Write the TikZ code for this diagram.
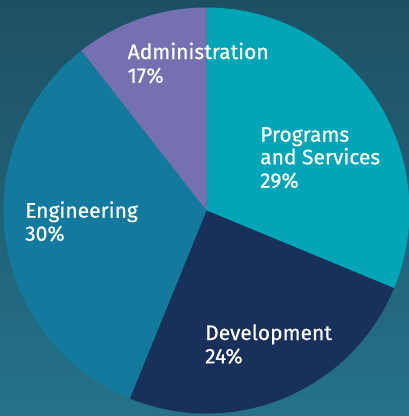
\documentclass[tikz,border=0pt]{standalone}
\usepackage{fontspec}
\newfontfamily\lblfont{Fira Sans}[UprightFeatures={FakeBold=0.5}]
\definecolor{bgtop}{HTML}{1E5064}
\definecolor{bgbot}{HTML}{24728A}
\definecolor{admin}{HTML}{7571B1}
\definecolor{prog}{HTML}{00A5B6}
\definecolor{devel}{HTML}{18305A}
\definecolor{engin}{HTML}{137A9E}
\tikzset{lbl/.style={anchor=base west, inner sep=0pt, text=white, font=\lblfont\fontsize{21}{24}\selectfont}}
\begin{document}
\begin{tikzpicture}[x=1pt,y=-1pt]
\shade[top color=bgtop, bottom color=bgbot] (0,0) rectangle (409,416);
\useasboundingbox (0,0) rectangle (409,416);
\coordinate (c) at (206.5,210.5);
\def\R{203}
% y axis flipped: angle a in standard maps to -a here
\fill[prog] (c) -- ++(-90:\R) arc[start angle=-90, end angle=22.5, radius=\R] -- cycle;
\fill[devel] (c) -- ++(22.5:\R) arc[start angle=22.5, end angle=112.2, radius=\R] -- cycle;
\fill[engin] (c) -- ++(112.2:\R) arc[start angle=112.2, end angle=232, radius=\R] -- cycle;
\fill[admin] (c) -- ++(232:\R) arc[start angle=232, end angle=270, radius=\R] -- cycle;
\node[lbl] (a1) at (127.5,59) {Administration};
\node[lbl] (a2) at (127.5,82.7) {17\%};
\node[lbl] (p1) at (260,141.7) {Programs};
\node[lbl] (p2) at (260,164.3) {and Services};
\node[lbl] (p3) at (260,187.7) {29\%};
\node[lbl] (e1) at (25,217.7) {Engineering};
\node[lbl] (e2) at (25,240.7) {30\%};
\node[lbl] (d1) at (205,340) {Development};
\node[lbl] (d2) at (205,363.3) {24\%};
\end{tikzpicture}
\end{document}
